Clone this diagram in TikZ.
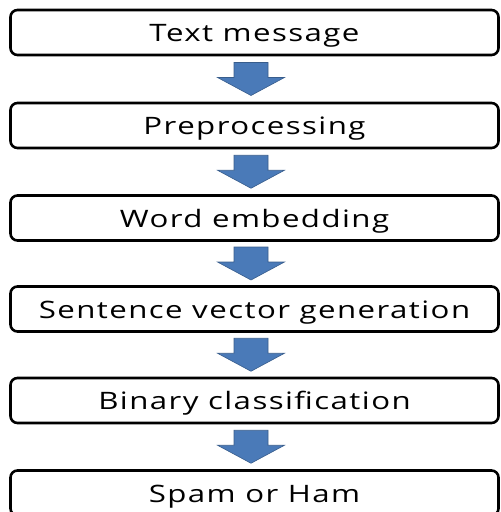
\documentclass[tikz,border=0pt]{standalone}
\usepackage{fontspec}
\setmainfont{Open Sans}[FakeStretch=1.3,LetterSpace=6]
\usetikzlibrary{calc}
\definecolor{arrowblue}{RGB}{74,122,184}
\definecolor{arrowedge}{RGB}{56,93,140}
\newcommand{\flowarrow}[2]{%
  \path ($(#1.south)!0.5!(#2.north)$) ++(-3.5,0) coordinate (m#1);
  \filldraw[flowarrowstyle] ([shift={(-17,-16.5)}]m#1) -- ([shift={(17,-16.5)}]m#1)
    -- ([shift={(17,-1.5)}]m#1) -- ([shift={(33.5,-1.5)}]m#1)
    -- ([shift={(0,16.5)}]m#1) -- ([shift={(-33.5,-1.5)}]m#1)
    -- ([shift={(-17,-1.5)}]m#1) -- cycle;}
\begin{document}
\begin{tikzpicture}[x=1pt,y=-1pt,
  stepbox/.style={draw=black,line width=2.6pt,rounded corners=7pt,fill=white,
    minimum width=488pt,minimum height=45pt,inner sep=0pt,
    text height=18.5pt,text depth=0pt,
    font=\fontsize{24}{28}\selectfont},
  flowarrowstyle/.style={fill=arrowblue,draw=arrowedge,line width=0.6pt,line join=miter}]
\useasboundingbox (0,0) rectangle (501,512);
\begin{scope}
\clip (0,0) rectangle (501,512);
\node[stepbox] (b1) at (254.5,32.5) {Text message};
\node[stepbox] (b2) at (254.5,125.5) {Preprocessing};
\node[stepbox] (b3) at (254.5,218) {Word embedding};
\node[stepbox] (b4) at (254.5,309) {Sentence vector generation};
\node[stepbox] (b5) at (254.5,400.5) {Binary classification};
\node[stepbox] (b6) at (254.5,493) {Spam or Ham};
\flowarrow{b1}{b2}
\flowarrow{b2}{b3}
\flowarrow{b3}{b4}
\flowarrow{b4}{b5}
\flowarrow{b5}{b6}
\end{scope}
\end{tikzpicture}
\end{document}
